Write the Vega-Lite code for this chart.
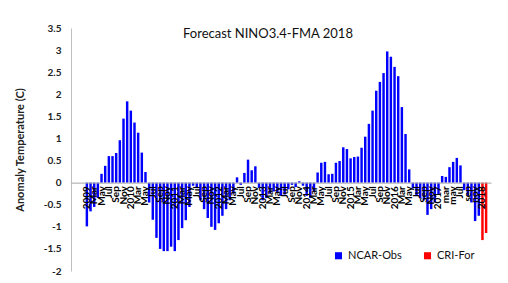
{
  "$schema": "https://vega.github.io/schema/vega-lite/v6.json",
  "autosize": {"type": "none"},
  "padding": {"left": 71, "top": 28, "right": 17, "bottom": 12},
  "width": 420,
  "height": 243,
  "background": "white",
  "config": {"view": {"stroke": null}, "font": "Lato"},
  "title": {"text": "Forecast NINO3.4-FMA 2018", "fontSize": 13, "font": "Lato", "fontWeight": "normal", "color": "#111111", "anchor": "middle", "dx": -13, "dy": 22},
  "data": {"values": [
    {"m":"2009-01","v":-0.99,"s":"NCAR-Obs"},{"m":"2009-02","v":-0.65,"s":"NCAR-Obs"},{"m":"2009-03","v":-0.55,"s":"NCAR-Obs"},{"m":"2009-04","v":-0.35,"s":"NCAR-Obs"},{"m":"2009-05","v":0.2,"s":"NCAR-Obs"},{"m":"2009-06","v":0.38,"s":"NCAR-Obs"},{"m":"2009-07","v":0.6,"s":"NCAR-Obs"},{"m":"2009-08","v":0.6,"s":"NCAR-Obs"},{"m":"2009-09","v":0.67,"s":"NCAR-Obs"},{"m":"2009-10","v":0.96,"s":"NCAR-Obs"},{"m":"2009-11","v":1.45,"s":"NCAR-Obs"},{"m":"2009-12","v":1.84,"s":"NCAR-Obs"},
    {"m":"2010-01","v":1.63,"s":"NCAR-Obs"},{"m":"2010-02","v":1.36,"s":"NCAR-Obs"},{"m":"2010-03","v":1.13,"s":"NCAR-Obs"},{"m":"2010-04","v":0.68,"s":"NCAR-Obs"},{"m":"2010-05","v":0.24,"s":"NCAR-Obs"},{"m":"2010-06","v":-0.45,"s":"NCAR-Obs"},{"m":"2010-07","v":-0.84,"s":"NCAR-Obs"},{"m":"2010-08","v":-1.25,"s":"NCAR-Obs"},{"m":"2010-09","v":-1.5,"s":"NCAR-Obs"},{"m":"2010-10","v":-1.55,"s":"NCAR-Obs"},{"m":"2010-11","v":-1.55,"s":"NCAR-Obs"},{"m":"2010-12","v":-1.45,"s":"NCAR-Obs"},
    {"m":"2011-01","v":-1.55,"s":"NCAR-Obs"},{"m":"2011-02","v":-1.3,"s":"NCAR-Obs"},{"m":"2011-03","v":-1.03,"s":"NCAR-Obs"},{"m":"2011-04","v":-0.85,"s":"NCAR-Obs"},{"m":"2011-05","v":-0.55,"s":"NCAR-Obs"},{"m":"2011-06","v":-0.07,"s":"NCAR-Obs"},{"m":"2011-07","v":-0.1,"s":"NCAR-Obs"},{"m":"2011-08","v":-0.4,"s":"NCAR-Obs"},{"m":"2011-09","v":-0.6,"s":"NCAR-Obs"},{"m":"2011-10","v":-0.8,"s":"NCAR-Obs"},{"m":"2011-11","v":-1.0,"s":"NCAR-Obs"},{"m":"2011-12","v":-1.07,"s":"NCAR-Obs"},
    {"m":"2012-01","v":-0.92,"s":"NCAR-Obs"},{"m":"2012-02","v":-0.75,"s":"NCAR-Obs"},{"m":"2012-03","v":-0.6,"s":"NCAR-Obs"},{"m":"2012-04","v":-0.4,"s":"NCAR-Obs"},{"m":"2012-05","v":-0.25,"s":"NCAR-Obs"},{"m":"2012-06","v":0.12,"s":"NCAR-Obs"},{"m":"2012-07","v":-0.05,"s":"NCAR-Obs"},{"m":"2012-08","v":0.22,"s":"NCAR-Obs"},{"m":"2012-09","v":0.52,"s":"NCAR-Obs"},{"m":"2012-10","v":0.28,"s":"NCAR-Obs"},{"m":"2012-11","v":0.37,"s":"NCAR-Obs"},{"m":"2012-12","v":-0.12,"s":"NCAR-Obs"},
    {"m":"2013-01","v":-0.4,"s":"NCAR-Obs"},{"m":"2013-02","v":-0.35,"s":"NCAR-Obs"},{"m":"2013-03","v":-0.25,"s":"NCAR-Obs"},{"m":"2013-04","v":-0.2,"s":"NCAR-Obs"},{"m":"2013-05","v":-0.22,"s":"NCAR-Obs"},{"m":"2013-06","v":-0.3,"s":"NCAR-Obs"},{"m":"2013-07","v":-0.27,"s":"NCAR-Obs"},{"m":"2013-08","v":-0.15,"s":"NCAR-Obs"},{"m":"2013-09","v":-0.05,"s":"NCAR-Obs"},{"m":"2013-10","v":-0.1,"s":"NCAR-Obs"},{"m":"2013-11","v":0.03,"s":"NCAR-Obs"},{"m":"2013-12","v":-0.07,"s":"NCAR-Obs"},
    {"m":"2014-01","v":-0.3,"s":"NCAR-Obs"},{"m":"2014-02","v":-0.35,"s":"NCAR-Obs"},{"m":"2014-03","v":-0.2,"s":"NCAR-Obs"},{"m":"2014-04","v":0.23,"s":"NCAR-Obs"},{"m":"2014-05","v":0.45,"s":"NCAR-Obs"},{"m":"2014-06","v":0.47,"s":"NCAR-Obs"},{"m":"2014-07","v":0.19,"s":"NCAR-Obs"},{"m":"2014-08","v":0.2,"s":"NCAR-Obs"},{"m":"2014-09","v":0.45,"s":"NCAR-Obs"},{"m":"2014-10","v":0.49,"s":"NCAR-Obs"},{"m":"2014-11","v":0.8,"s":"NCAR-Obs"},{"m":"2014-12","v":0.76,"s":"NCAR-Obs"},
    {"m":"2015-01","v":0.55,"s":"NCAR-Obs"},{"m":"2015-02","v":0.58,"s":"NCAR-Obs"},{"m":"2015-03","v":0.59,"s":"NCAR-Obs"},{"m":"2015-04","v":0.79,"s":"NCAR-Obs"},{"m":"2015-05","v":1.04,"s":"NCAR-Obs"},{"m":"2015-06","v":1.33,"s":"NCAR-Obs"},{"m":"2015-07","v":1.63,"s":"NCAR-Obs"},{"m":"2015-08","v":2.08,"s":"NCAR-Obs"},{"m":"2015-09","v":2.28,"s":"NCAR-Obs"},{"m":"2015-10","v":2.48,"s":"NCAR-Obs"},{"m":"2015-11","v":2.97,"s":"NCAR-Obs"},{"m":"2015-12","v":2.85,"s":"NCAR-Obs"},
    {"m":"2016-01","v":2.62,"s":"NCAR-Obs"},{"m":"2016-02","v":2.41,"s":"NCAR-Obs"},{"m":"2016-03","v":1.71,"s":"NCAR-Obs"},{"m":"2016-04","v":1.1,"s":"NCAR-Obs"},{"m":"2016-05","v":0.3,"s":"NCAR-Obs"},{"m":"2016-06","v":-0.13,"s":"NCAR-Obs"},{"m":"2016-07","v":-0.3,"s":"NCAR-Obs"},{"m":"2016-08","v":-0.35,"s":"NCAR-Obs"},{"m":"2016-09","v":-0.4,"s":"NCAR-Obs"},{"m":"2016-10","v":-0.73,"s":"NCAR-Obs"},{"m":"2016-11","v":-0.6,"s":"NCAR-Obs"},{"m":"2016-12","v":-0.45,"s":"NCAR-Obs"},
    {"m":"2017-01","v":-0.28,"s":"NCAR-Obs"},{"m":"2017-02","v":0.15,"s":"NCAR-Obs"},{"m":"2017-03","v":0.13,"s":"NCAR-Obs"},{"m":"2017-04","v":0.35,"s":"NCAR-Obs"},{"m":"2017-05","v":0.47,"s":"NCAR-Obs"},{"m":"2017-06","v":0.56,"s":"NCAR-Obs"},{"m":"2017-07","v":0.39,"s":"NCAR-Obs"},{"m":"2017-08","v":-0.17,"s":"NCAR-Obs"},{"m":"2017-09","v":-0.3,"s":"NCAR-Obs"},{"m":"2017-10","v":-0.45,"s":"NCAR-Obs"},{"m":"2017-11","v":-0.87,"s":"NCAR-Obs"},{"m":"2017-12","v":-0.75,"s":"NCAR-Obs"},
    {"m":"2018-01","v":-1.3,"s":"CRI-For"},{"m":"2018-02","v":-1.14,"s":"CRI-For"}
  ]},
  "mark": {"type": "bar"},
  "encoding": {
    "x": {
      "field": "m", "type": "ordinal", "sort": null,
      "scale": {
        "paddingInner": 0.33, "paddingOuter": 0,
        "domain": ["2008-09","2008-10","2008-11","2008-12",
          "2009-01","2009-02","2009-03","2009-04","2009-05","2009-06","2009-07","2009-08","2009-09","2009-10","2009-11","2009-12",
          "2010-01","2010-02","2010-03","2010-04","2010-05","2010-06","2010-07","2010-08","2010-09","2010-10","2010-11","2010-12",
          "2011-01","2011-02","2011-03","2011-04","2011-05","2011-06","2011-07","2011-08","2011-09","2011-10","2011-11","2011-12",
          "2012-01","2012-02","2012-03","2012-04","2012-05","2012-06","2012-07","2012-08","2012-09","2012-10","2012-11","2012-12",
          "2013-01","2013-02","2013-03","2013-04","2013-05","2013-06","2013-07","2013-08","2013-09","2013-10","2013-11","2013-12",
          "2014-01","2014-02","2014-03","2014-04","2014-05","2014-06","2014-07","2014-08","2014-09","2014-10","2014-11","2014-12",
          "2015-01","2015-02","2015-03","2015-04","2015-05","2015-06","2015-07","2015-08","2015-09","2015-10","2015-11","2015-12",
          "2016-01","2016-02","2016-03","2016-04","2016-05","2016-06","2016-07","2016-08","2016-09","2016-10","2016-11","2016-12",
          "2017-01","2017-02","2017-03","2017-04","2017-05","2017-06","2017-07","2017-08","2017-09","2017-10","2017-11","2017-12",
          "2018-01","2018-02","2018-03"]
      },
      "axis": {
        "orient": "bottom", "offset": -88.36, "title": null, "ticks": false,
        "domainColor": "#a6a6a6", "domainWidth": 1, "zindex": 1,
        "labelAngle": 270, "labelAlign": "right", "labelBaseline": "middle", "labelPadding": 3,
        "labelFont": "Lato", "labelFontSize": 10, "labelFontWeight": "bold", "labelColor": "#000000",
        "labelOverlap": false, "labelBound": false, "labelFlush": false,
        "labelExpr": "(datum.value < '2009' || datum.value > '2018-02') ? '' : substring(datum.value,5,7)=='01' ? substring(datum.value,0,4) : substring(datum.value,5,7)=='03' ? (substring(datum.value,0,4)=='2017' ? 'mar' : 'Mar') : substring(datum.value,5,7)=='05' ? (substring(datum.value,0,4)=='2017' ? 'may' : 'May') : substring(datum.value,5,7)=='07' ? 'Jul' : substring(datum.value,5,7)=='09' ? (substring(datum.value,0,4)=='2017' ? 'sep' : 'Sep') : substring(datum.value,5,7)=='11' ? (substring(datum.value,0,4)=='2017' ? 'nov' : 'Nov') : ''"
      }
    },
    "y": {
      "field": "v", "type": "quantitative",
      "scale": {"domain": [-2, 3.5], "nice": false, "zero": false},
      "axis": {
        "title": "Anomaly Temperature (C)", "titleFont": "Lato", "titleFontSize": 11, "titleFontWeight": "bold", "titleColor": "#222222", "titlePadding": 18,
        "values": [-2, -1.5, -1, -0.5, 0, 0.5, 1, 1.5, 2, 2.5, 3, 3.5],
        "labelExpr": "'' + datum.value",
        "grid": false, "ticks": false, "domainColor": "#bfbfbf", "domainWidth": 1,
        "labelPadding": 10, "labelFont": "Lato", "labelFontSize": 10, "labelFontWeight": "bold", "labelColor": "#222222"
      }
    },
    "color": {
      "field": "s", "type": "nominal",
      "scale": {"domain": ["NCAR-Obs", "CRI-For"], "range": ["#0000FF", "#FF0000"]},
      "legend": {
        "title": null, "orient": "none", "legendX": 262, "legendY": 222, "direction": "horizontal",
        "symbolType": "square", "symbolSize": 50, "symbolStrokeWidth": 0,
        "labelFont": "Lato", "labelFontSize": 11, "labelColor": "#111111", "columnPadding": 20, "labelOffset": 4
      }
    }
  }
}
